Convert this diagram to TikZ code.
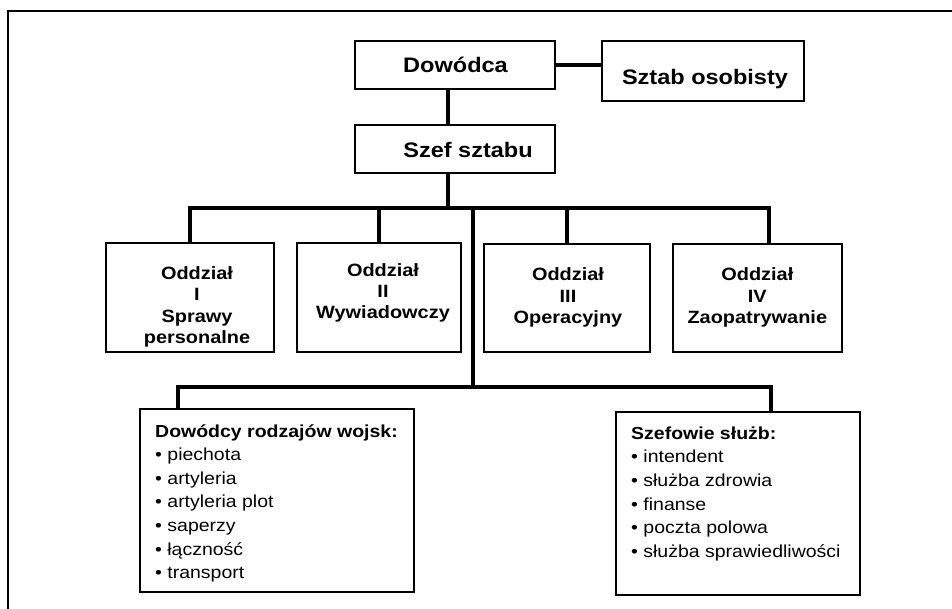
\documentclass[tikz,border=0pt]{standalone}
\usepackage{fontspec}
\setmainfont{Liberation Sans}[FakeStretch=1.12]
\begin{document}
\begin{tikzpicture}[x=1pt,y=-1pt,
  box/.style={draw=black, line width=1.6pt, rectangle, inner sep=0pt},
  conn/.style={draw=black, line width=4.5pt, line join=miter},
  toptext/.style={anchor=base, inner sep=0pt, font=\fontsize{21}{24}\selectfont\bfseries},
  divtext/.style={anchor=base, inner sep=0pt, align=center,
    font=\fontsize{17.8}{21.5}\selectfont\bfseries},
  listtext/.style={anchor=base west, inner sep=0pt, align=left,
    font=\fontsize{17.4}{23.6}\selectfont}]
\useasboundingbox (0,0) rectangle (952,609);
% outer frame
\draw[line width=2pt] (952,11) -- (8,11) -- (8,609);

% command level
\node[box, minimum width=200pt, minimum height=48pt] (dow) at (455,65) {};
\node[box, minimum width=202pt, minimum height=60pt] (szt) at (703,71) {};
\node[box, minimum width=200pt, minimum height=48pt] (szef) at (455,149) {};
\node[toptext] (dowt) at (455.5,73) {Dowódca};
\node[toptext] (sztt) at (705,85) {Sztab osobisty};
\node[toptext] (szeft) at (468,158) {Szef sztabu};

% staff divisions (text nodes are placed by the baseline of their last line)
\node[box, minimum width=168pt, minimum height=109pt] (o1) at (190,297.5) {};
\node[box, minimum width=164pt, minimum height=109pt] (o2) at (379,297.5) {};
\node[box, minimum width=166pt, minimum height=108pt] (o3) at (567,298) {};
\node[box, minimum width=169pt, minimum height=108pt] (o4) at (757.5,298) {};
\node[divtext] (o1t) at (197,343.8) {Oddział\\I\\Sprawy\\personalne};
\node[divtext] (o2t) at (383,319) {Oddział\\II\\Wywiadowczy};
\node[divtext] (o3t) at (568,323.7) {Oddział\\III\\Operacyjny};
\node[divtext] (o4t) at (757.3,323.7) {Oddział\\IV\\Zaopatrywanie};

% commanders and service chiefs
\node[box, minimum width=274pt, minimum height=183pt] (rodz) at (277,500.5) {};
\node[box, minimum width=244pt, minimum height=183pt] (sluz) at (738,503.5) {};
\node[listtext] (rodzt) at (155,578.6) {\textbf{Dowódcy rodzajów wojsk:}\\• piechota\\• artyleria\\• artyleria plot\\• saperzy\\• łączność\\• transport};
\node[listtext] (sluzt) at (631,557.3) {\textbf{Szefowie służb:}\\• intendent\\• służba zdrowia\\• finanse\\• poczta polowa\\• służba sprawiedliwości};

% junctions of the connector lines
\coordinate (j1) at (448,208);
\coordinate (busR) at (769,208);
\coordinate (j2) at (473,208);
\coordinate (lowC) at (473,387);
\coordinate (lowL) at (178,387);
\coordinate (lowR) at (771,387);

% connectors
\draw[conn] (dow.east) -- (dow.east -| szt.west);
\draw[conn] (dow.south -| j1) -- (szef.north -| j1);
\draw[conn] (szef.south -| j1) -- (j1);
\draw[conn] (o1.north) |- (busR) -- (busR |- o4.north);
\draw[conn] (o2.north) -- (o2.north |- j1);
\draw[conn] (o3.north) -- (o3.north |- j1);
\draw[conn] (j2) -- (lowC);
\draw[conn] (rodz.north -| lowL) |- (lowR) -- (lowR |- sluz.north);
\end{tikzpicture}
\end{document}
